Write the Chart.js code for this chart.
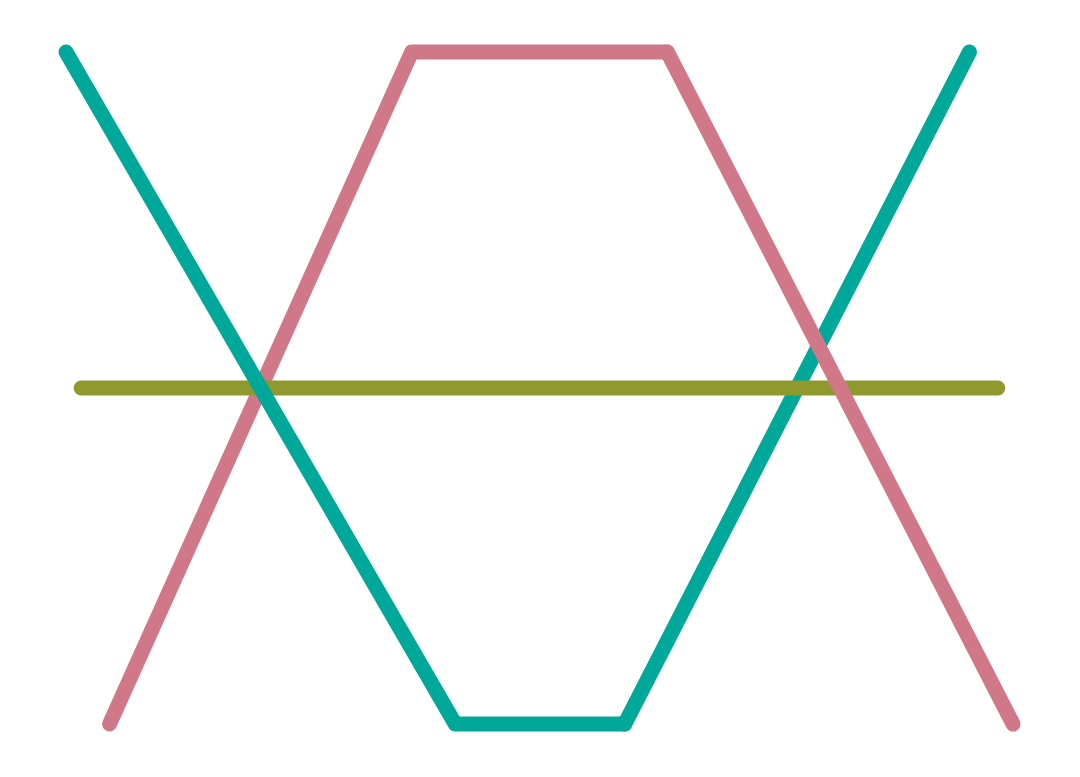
<!DOCTYPE html>
<html>
<head>
<meta charset="utf-8">
<script src="https://cdn.jsdelivr.net/npm/chart.js@4"></script>
<style>
  body { margin: 0; background: #fff; }
  #wrap { width: 1080px; height: 777px; }
</style>
</head>
<body>
<div id="wrap"><canvas id="lineChart" width="1080" height="777"></canvas></div>
<script>
// x on a 0-100 scale, y from 0 (bottom) to 1 (top)
const pinkX = [4.6, 36.5, 63.5, 100];
const pinkY = [0, 1, 1, 0];
const tealX = [0, 41.1, 59.0, 95.4];
const tealY = [1, 0, 0, 1];
const oliveX = [1.6, 98.4];
const oliveY = [0.5, 0.5];

const PINK = '#d07788';
const TEAL = '#00a89a';
const OLIVE = '#8f992d';

function pts(xs, ys, from, to) {
  const out = [];
  for (let i = from; i <= to; i++) out.push({ x: xs[i], y: ys[i] });
  return out;
}

// each colour is split in two so the crossings stack the same way as the picture
function line(data, color, order) {
  return {
    data: data,
    borderColor: color,
    borderWidth: 15,
    borderCapStyle: 'round',
    borderJoinStyle: 'round',
    pointRadius: 0,
    tension: 0,
    fill: false,
    clip: false,
    order: order
  };
}

const ctx = document.getElementById('lineChart').getContext('2d');

const lineChart = new Chart(ctx, {
  type: 'line',
  data: {
    datasets: [
      line(pts(pinkX, pinkY, 0, 2), PINK, 5),
      line(pts(tealX, tealY, 2, 3), TEAL, 4),
      line(pts(oliveX, oliveY, 0, 1), OLIVE, 3),
      line(pts(tealX, tealY, 0, 2), TEAL, 2),
      line(pts(pinkX, pinkY, 2, 3), PINK, 1)
    ]
  },
  options: {
    responsive: false,
    animation: false,
    layout: {
      padding: { left: 66, right: 67, top: 52, bottom: 53 }
    },
    scales: {
      x: { type: 'linear', min: 0, max: 100, display: false },
      y: { type: 'linear', min: 0, max: 1, display: false }
    },
    plugins: {
      legend: { display: false },
      tooltip: { enabled: false }
    }
  }
});
</script>
</body>
</html>
